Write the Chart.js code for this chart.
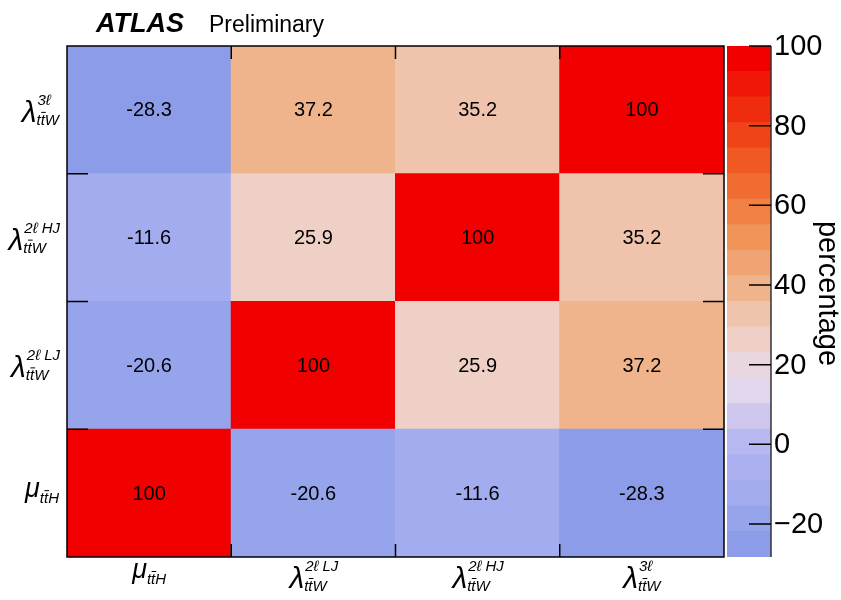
<!DOCTYPE html>
<html><head><meta charset="utf-8">
<script src="https://cdn.jsdelivr.net/npm/chart.js@4"></script>
<style>
html,body{margin:0;padding:0;background:#fff;}
#wrap{position:relative;width:841px;height:600px;}
canvas{position:absolute;left:0;top:0;}
</style>
</head><body>
<div id="wrap"><canvas id="main" width="841" height="600"></canvas><canvas id="cbar" width="841" height="600"></canvas></div>
<script>
// ---- data ----
const xCategories = ['mu_ttH', 'lambda_ttW_2lLJ', 'lambda_ttW_2lHJ', 'lambda_ttW_3l'];
const yCategories = ['mu_ttH', 'lambda_ttW_2lLJ', 'lambda_ttW_2lHJ', 'lambda_ttW_3l']; // bottom -> top
const rowMuTtH = [100, -20.6, -11.6, -28.3];
const row2lLJ  = [-20.6, 100, 25.9, 37.2];
const row2lHJ  = [-11.6, 25.9, 100, 35.2];
const row3l    = [-28.3, 37.2, 35.2, 100];
const colorbarTicks = [-20, 0, 20, 40, 60, 80, 100];
const colorbarTickLabels = ['\u221220', '0', '20', '40', '60', '80', '100'];
const zMin = -28.3, zMax = 100;
const bandEdges = [-28.3, -21.885, -15.47, -9.055, -2.64, 3.775, 10.19, 16.605, 23.02, 29.435,
                   35.85, 42.265, 48.68, 55.095, 61.51, 67.925, 74.34, 80.755, 87.17, 93.585, 100];
const bandColors = ['#8C9CE8', '#96A4EC', '#A4ACF0', '#ACB0F0', '#B8B8F0', '#CEC6EC', '#E2D6EC', '#EAD6DE',
                    '#EED0C6', '#F0C4AC', '#F0B48C', '#F0A474', '#F09458', '#F08044', '#F06C30', '#F05A22',
                    '#F04418', '#F02C0E', '#F01608', '#F20000'];

// axis label specs (math)
const labelSpecs = {
  'mu_ttH': {sym: '\u03BC', sup: '', sub: 'ttH'},
  'lambda_ttW_2lLJ': {sym: '\u03BB', sup: '2\u2113 LJ', sub: 'ttW'},
  'lambda_ttW_2lHJ': {sym: '\u03BB', sup: '2\u2113 HJ', sub: 'ttW'},
  'lambda_ttW_3l': {sym: '\u03BB', sup: '3\u2113', sub: 'ttW'}
};

const rows = [rowMuTtH, row2lLJ, row2lHJ, row3l];
const FONT = '"Liberation Sans", Arial, Helvetica, sans-serif';

function colorFor(v) {
  for (let i = 0; i < bandColors.length; i++) {
    if (v >= bandEdges[i] && v < bandEdges[i + 1]) return bandColors[i];
  }
  return v >= zMax ? bandColors[bandColors.length - 1] : bandColors[0];
}

function drawMath(ctx, spec, x, base, align) {
  const isLambda = spec.sym === '\u03BB';
  const symFont = isLambda ? 'italic 30px ' + FONT : 'italic 27px ' + FONT;
  const scriptFont = 'italic 15px ' + FONT;
  ctx.font = symFont; const symW = ctx.measureText(spec.sym).width;
  ctx.font = scriptFont;
  const supW = spec.sup ? ctx.measureText(spec.sup).width : 0;
  const subW = ctx.measureText(spec.sub).width;
  const tW = ctx.measureText('t').width;
  const total = symW + Math.max(supW, subW);
  const x0 = align === 'right' ? x - total : x - total / 2;
  ctx.fillStyle = '#000';
  ctx.textAlign = 'left';
  ctx.textBaseline = 'alphabetic';
  ctx.font = symFont;
  ctx.fillText(spec.sym, x0, base);
  ctx.font = scriptFont;
  const sx = x0 + symW;
  const subBase = isLambda ? base + 3 : base + 6;
  ctx.fillText(spec.sub, sx, subBase);
  if (spec.sup) ctx.fillText(spec.sup, sx + 1, base - 17);
  // overbar on second t
  ctx.strokeStyle = '#000'; ctx.lineWidth = 1;
  ctx.beginPath();
  ctx.moveTo(sx + tW + 0.5, subBase - 12.5);
  ctx.lineTo(sx + 2 * tW + 1, subBase - 12.5);
  ctx.stroke();
}

const mainPlugin = {
  id: 'mainDecor',
  afterDatasetsDraw(chart) {
    const ctx = chart.ctx;
    const a = chart.chartArea;
    const xs = chart.scales.x, ys = chart.scales.y;
    ctx.save();
    // cell numbers
    ctx.font = '20px ' + FONT;
    ctx.fillStyle = '#000';
    ctx.textAlign = 'center';
    ctx.textBaseline = 'middle';
    chart.data.datasets.forEach((ds, di) => {
      const meta = chart.getDatasetMeta(di);
      meta.data.forEach((el, i) => {
        const v = ds.values[i];
        ctx.fillText(String(v), el.x, (el.y + el.base) / 2 + 1);
      });
    });
    // frame
    ctx.strokeStyle = '#000';
    ctx.lineWidth = 1.5;
    ctx.strokeRect(a.left, a.top, a.right - a.left, a.bottom - a.top);
    // ticks
    ctx.lineWidth = 1.5;
    ctx.beginPath();
    for (let i = 0; i < xCategories.length - 1; i++) {
      const px = (xs.getPixelForValue(i) + xs.getPixelForValue(i + 1)) / 2;
      ctx.moveTo(px, a.bottom); ctx.lineTo(px, a.bottom - 13);
      ctx.moveTo(px, a.top); ctx.lineTo(px, a.top + 13);
    }
    for (let j = 1; j < yCategories.length; j++) {
      const py = ys.getPixelForValue(j);
      ctx.moveTo(a.left, py); ctx.lineTo(a.left + 21, py);
      ctx.moveTo(a.right, py); ctx.lineTo(a.right - 21, py);
    }
    ctx.stroke();
    // axis labels
    xCategories.forEach((c, i) => {
      const spec = labelSpecs[c];
      const px = xs.getPixelForValue(i);
      drawMath(ctx, spec, px, spec.sym === '\u03BB' ? 588 : 578, 'center');
    });
    yCategories.forEach((c, j) => {
      const spec = labelSpecs[c];
      const cy = ys.getPixelForValue(j + 0.5);
      drawMath(ctx, spec, 59, spec.sym === '\u03BB' ? cy + 12 : cy + 4, 'right');
    });
    // title
    ctx.fillStyle = '#000';
    ctx.textAlign = 'left';
    ctx.textBaseline = 'alphabetic';
    ctx.font = 'italic bold 27px ' + FONT;
    ctx.fillText('ATLAS', 96, 32);
    ctx.font = '23px ' + FONT;
    ctx.fillText('Preliminary', 209, 32);
    ctx.restore();
  }
};

new Chart(document.getElementById('main'), {
  type: 'bar',
  data: {
    labels: xCategories,
    datasets: rows.map((vals, r) => ({
      label: yCategories[r],
      data: vals.map(() => [r, r + 1]),
      values: vals,
      backgroundColor: vals.map(colorFor),
      borderWidth: 0,
      borderSkipped: false,
      barPercentage: 1,
      categoryPercentage: 1,
      grouped: false,
      inflateAmount: 0.5
    }))
  },
  options: {
    responsive: false,
    animation: false,
    devicePixelRatio: 1,
    layout: {padding: {left: 67, right: 117, top: 46, bottom: 43}},
    plugins: {legend: {display: false}, tooltip: {enabled: false}, title: {display: false}},
    scales: {
      x: {display: false, offset: true},
      y: {display: false, min: 0, max: 4}
    }
  },
  plugins: [mainPlugin]
});

const cbarPlugin = {
  id: 'cbarDecor',
  afterDatasetsDraw(chart) {
    const ctx = chart.ctx;
    const a = chart.chartArea;
    const ys = chart.scales.y;
    ctx.save();
    ctx.strokeStyle = '#333';
    ctx.lineWidth = 1.5;
    ctx.beginPath();
    ctx.moveTo(a.right, a.top); ctx.lineTo(a.right, a.bottom);
    ctx.stroke();
    ctx.strokeStyle = '#000';
    ctx.beginPath();
    colorbarTicks.forEach(t => {
      const py = ys.getPixelForValue(t);
      ctx.moveTo(a.right, py); ctx.lineTo(a.right - 22, py);
    });
    ctx.stroke();
    ctx.fillStyle = '#000';
    ctx.font = '29px ' + FONT;
    ctx.textAlign = 'left';
    ctx.textBaseline = 'middle';
    colorbarTicks.forEach((t, i) => {
      const py = ys.getPixelForValue(t);
      ctx.fillText(colorbarTickLabels[i], a.right + 3, py + 1);
    });
    ctx.translate(819, (a.top + a.bottom) / 2 - 8);
    ctx.rotate(Math.PI / 2);
    ctx.font = '29px ' + FONT;
    ctx.textAlign = 'center';
    ctx.textBaseline = 'alphabetic';
    ctx.fillText('percentage', 0, 0);
    ctx.restore();
  }
};

new Chart(document.getElementById('cbar'), {
  type: 'bar',
  data: {
    labels: ['z'],
    datasets: bandColors.map((c, i) => ({
      data: [[bandEdges[i], bandEdges[i + 1]]],
      backgroundColor: c,
      borderWidth: 0,
      borderSkipped: false,
      barPercentage: 1,
      categoryPercentage: 1,
      grouped: false,
      inflateAmount: 0.5
    }))
  },
  options: {
    responsive: false,
    animation: false,
    devicePixelRatio: 1,
    layout: {padding: {left: 727, right: 70, top: 46, bottom: 43}},
    plugins: {legend: {display: false}, tooltip: {enabled: false}},
    scales: {
      x: {display: false, offset: true},
      y: {display: false, min: zMin, max: zMax}
    }
  },
  plugins: [cbarPlugin]
});
</script>
</body></html>
